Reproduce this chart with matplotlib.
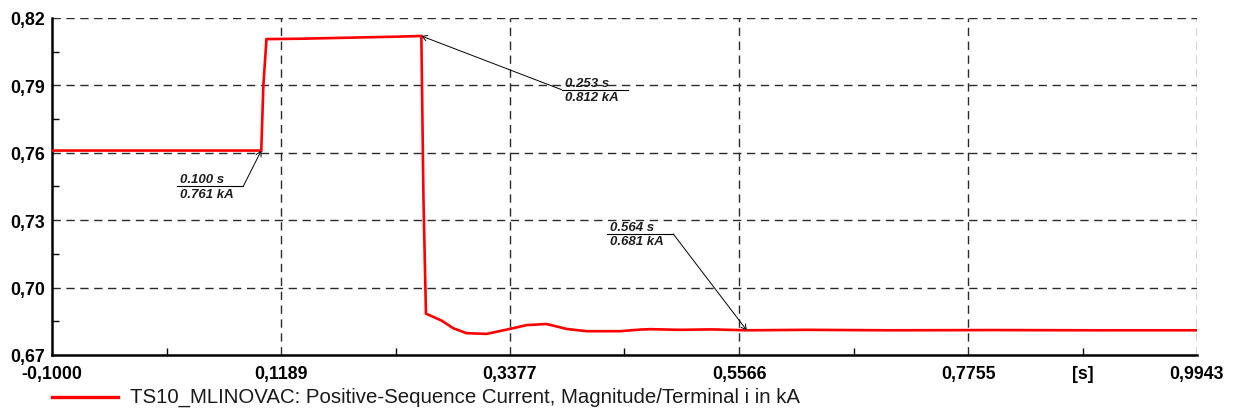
import matplotlib
matplotlib.use("Agg")
import matplotlib.pyplot as plt
from matplotlib.lines import Line2D

plt.rcParams['font.family'] = ['Liberation Sans', 'DejaVu Sans']

# Positive-sequence current magnitude at terminal i (kA) versus time (s)
time_s = [-0.1000, 0.1000, 0.1020, 0.1050, 0.1400, 0.1700, 0.2000, 0.2300,
          0.2530, 0.2550, 0.2574, 0.2628, 0.2724, 0.2835, 0.2963, 0.3154,
          0.3376, 0.3536, 0.3727, 0.3918, 0.4109, 0.4428, 0.4619, 0.4715,
          0.5000, 0.5300, 0.5640, 0.6200, 0.7000, 0.8000, 0.9000, 0.9943]
current_ka = [0.7610, 0.7610, 0.7900, 0.8106, 0.8108, 0.8111, 0.8114, 0.8117,
              0.8120, 0.7400, 0.6884, 0.6873, 0.6853, 0.6819, 0.6797, 0.6794,
              0.6816, 0.6833, 0.6838, 0.6816, 0.6806, 0.6806, 0.6813, 0.6815,
              0.6812, 0.6814, 0.6810, 0.6812, 0.6810, 0.6811, 0.6810, 0.6810]

x_ticks = [-0.1000, 0.1189, 0.3377, 0.5566, 0.7755, 0.9943]
x_tick_labels = ["-0,1000", "0,1189", "0,3377", "0,5566", "0,7755", "0,9943"]
y_ticks = [0.67, 0.70, 0.73, 0.76, 0.79, 0.82]
y_tick_labels = ["0,67", "0,70", "0,73", "0,76", "0,79", "0,82"]

# Marked points: (time, value)
markers = [(0.100, 0.761), (0.253, 0.812), (0.564, 0.681)]
legend_label = "TS10_MLINOVAC: Positive-Sequence Current, Magnitude/Terminal i in kA"

fig = plt.figure(figsize=(12.36, 4.14), dpi=100)
ax = fig.add_axes([52 / 1236, 1 - 356 / 414, (1197 - 52) / 1236, (356 - 19) / 414])

ax.plot(time_s, current_ka, color="#ff0000", lw=1.9, solid_joinstyle="miter", zorder=3)

ax.set_xlim(x_ticks[0], x_ticks[-1])
ax.set_ylim(y_ticks[0], y_ticks[-1])

# dashed grid
grid_kw = dict(color="#2a2a2a", lw=1.0, ls=(0, (6, 4)), zorder=1)
for xv in x_ticks[1:]:
    ax.axvline(xv, **grid_kw)
for yv in y_ticks[1:]:
    ax.axhline(yv, **grid_kw)

for side in ("top", "right"):
    ax.spines[side].set_visible(False)
for side in ("left", "bottom"):
    ax.spines[side].set_linewidth(1.8)
    ax.spines[side].set_color("black")

ax.set_xticks(x_ticks)
ax.set_xticklabels(x_tick_labels)
ax.set_yticks(y_ticks)
ax.set_yticklabels(y_tick_labels)

x_minor = [(a + b) / 2 for a, b in zip(x_ticks[:-1], x_ticks[1:])]
y_minor = [(a + b) / 2 for a, b in zip(y_ticks[:-1], y_ticks[1:])]
ax.set_xticks(x_minor, minor=True)
ax.set_xticklabels(["", "", "", "", "[s]"], minor=True)
ax.set_yticks(y_minor, minor=True)

ax.tick_params(axis="both", which="both", direction="in", color="black")
ax.tick_params(axis="both", which="major", length=0, labelsize=12.8)
ax.tick_params(axis="both", which="minor", length=5, width=1, labelsize=12.8)
ax.tick_params(axis="x", which="both", pad=7.5)
ax.tick_params(axis="y", which="both", pad=5)
for lab in ax.get_xticklabels() + ax.get_yticklabels() + ax.get_xticklabels(minor=True):
    lab.set_fontweight("bold")

# value annotations with an elbow leader and underlined two-line label
px_t = (x_ticks[-1] - x_ticks[0]) / (1197 - 52)
px_v = (y_ticks[-1] - y_ticks[0]) / (356 - 19)
underline = 66 * px_t


def mark(point, elbow, side):
    t0, v0 = point
    ex, ey = elbow
    ax.annotate("", xy=(t0, v0), xytext=(ex, ey),
                arrowprops=dict(arrowstyle="->,head_length=0.35,head_width=0.2",
                                color="black", lw=0.7, shrinkA=0, shrinkB=0),
                zorder=4)
    x_left = ex - underline if side == "right" else ex
    ax.plot([x_left, x_left + underline], [ey, ey], color="black", lw=0.8, zorder=4)
    tx = x_left + 3 * px_t
    ax.text(tx, ey + 1.0 * px_v, f"{t0:.3f} s", ha="left", va="bottom",
            fontsize=9.5, fontweight="bold", fontstyle="italic", color="#1e1e1e", zorder=4)
    ax.text(tx, ey - 1.5 * px_v, f"{v0:.3f} kA", ha="left", va="top",
            fontsize=9.5, fontweight="bold", fontstyle="italic", color="#1e1e1e", zorder=4)


mark(markers[0], (0.0828, 0.7451), "right")
mark(markers[1], (0.3870, 0.7881), "left")
mark(markers[2], (0.4937, 0.7239), "right")

# legend entry below the axes
fig.add_artist(Line2D([52 / 1236, 118 / 1236], [1 - 397.5 / 414] * 2,
                      color="#ff0000", lw=2.4, transform=fig.transFigure))
fig.text(130 / 1236, 1 - 397.5 / 414, legend_label, ha="left", va="center",
         fontsize=14.7, color="#1a1a1a")

fig.savefig("out.png", dpi=100)
